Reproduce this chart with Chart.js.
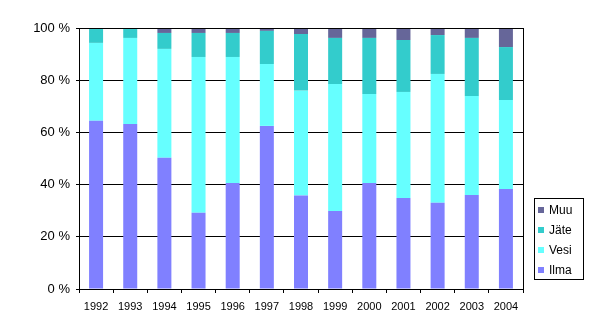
<!DOCTYPE html>
<html><head><meta charset="utf-8">
<script src="https://cdn.jsdelivr.net/npm/chart.js@4"></script>
<style>html,body{margin:0;padding:0;background:#fff}#wrap{width:602px;height:334px}</style>
</head><body><div id="wrap"><canvas id="c" width="602" height="334"></canvas></div>
<script>
const years = ["1992","1993","1994","1995","1996","1997","1998","1999","2000","2001","2002","2003","2004"];
const ilma = [64.5,63.2,50.3,29.2,40.6,62.5,35.8,29.9,40.6,34.9,33.0,36.0,38.3];
const vesi = [29.8,33.0,41.7,59.7,48.3,23.7,40.2,48.6,34.1,40.6,49.4,37.9,34.1];
const jate = [5.3,3.4,6.1,9.2,9.2,12.7,21.7,17.7,21.5,19.9,14.9,22.3,20.3];
const muu  = [0.4,0.4,1.9,1.9,1.9,1.1,2.3,3.8,3.8,4.6,2.7,3.8,7.3];
const yTicks = [0,20,40,60,80,100];

const FONT = "'Liberation Sans', Arial, sans-serif";

const boxPlugin = {
  id: 'box',
  afterDatasetsDraw(chart) {
    const a = chart.chartArea, ctx = chart.ctx;
    ctx.save();
    ctx.strokeStyle = '#000'; ctx.lineWidth = 1;
    ctx.strokeRect(Math.round(a.left)+0.5, Math.round(a.top)+0.5, Math.round(a.right-a.left), Math.round(a.bottom-a.top));
    // legend
    const lx = 534, ly = 198, lw = 49, lh = 81;
    ctx.fillStyle = '#fff';
    ctx.fillRect(lx, ly, lw, lh);
    ctx.strokeRect(lx+0.5, ly+0.5, lw, lh);
    const ds = chart.data.datasets.slice().reverse();
    ctx.font = '12px ' + FONT;
    ctx.textBaseline = 'middle';
    ctx.textAlign = 'left';
    ds.forEach((d, i) => {
      const cy = ly + 12 + i * 20;
      ctx.fillStyle = d.backgroundColor;
      ctx.fillRect(lx + 4, cy - 3, 6, 6);
      ctx.fillStyle = '#000';
      ctx.fillText(d.label, lx + 15, cy + 1);
    });
    ctx.restore();
  }
};

new Chart(document.getElementById('c'), {
  type: 'bar',
  data: {
    labels: years,
    datasets: [
      {label: 'Ilma', data: ilma, backgroundColor: '#8080FF'},
      {label: 'Vesi', data: vesi, backgroundColor: '#66FFFF'},
      {label: 'Jäte', data: jate, backgroundColor: '#33CCCC'},
      {label: 'Muu', data: muu, backgroundColor: '#666699'}
    ]
  },
  options: {
    responsive: false,
    animation: false,
    devicePixelRatio: 1,
    layout: {padding: {left: 0, top: 28, right: 79, bottom: 0}},
    datasets: {bar: {categoryPercentage: 1, barPercentage: 0.41, borderWidth: 0}},
    plugins: {legend: {display: false}, tooltip: {enabled: false}},
    scales: {
      x: {
        stacked: true,
        afterFit(s) { s.height = 45; },
        grid: {offset: true, drawOnChartArea: false, drawTicks: true, tickLength: 4, color: '#000'},
        border: {color: '#000', width: 1},
        ticks: {font: {family: FONT, size: 11}, color: '#000', padding: 7, maxRotation: 0, autoSkip: false}
      },
      y: {
        stacked: true,
        min: 0, max: 100,
        afterFit(s) { s.width = 79; },
        afterBuildTicks(s) { s.ticks = yTicks.map(v => ({value: v})); },
        grid: {color: '#000', drawTicks: true, tickLength: 3},
        border: {color: '#000', width: 1},
        ticks: {font: {family: FONT, size: 13}, color: '#000', padding: 6, callback: v => v + ' %'}
      }
    }
  },
  plugins: [boxPlugin]
});
</script></body></html>
